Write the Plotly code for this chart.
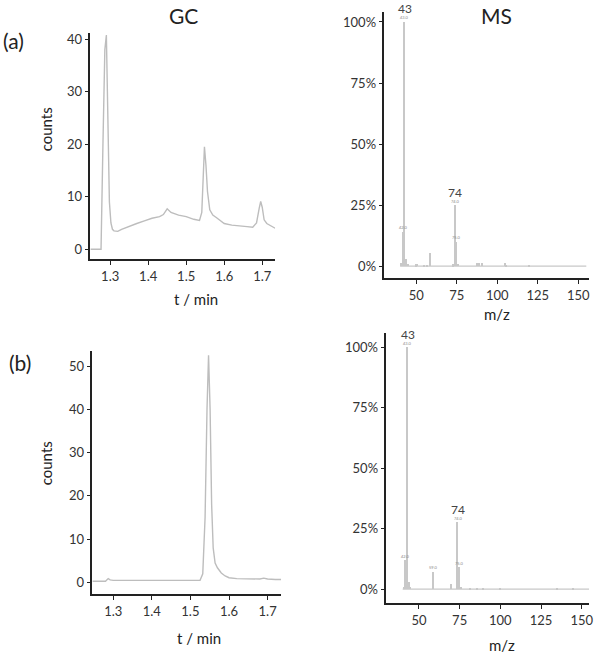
import plotly.graph_objects as go

# GC trace (a) - mixture
gc_a_t = [1.248, 1.276, 1.281, 1.286, 1.290, 1.294, 1.298, 1.302, 1.306, 1.31, 1.32, 1.33,
          1.35, 1.37, 1.39, 1.41, 1.43, 1.44, 1.45, 1.46, 1.48, 1.50, 1.52, 1.535,
          1.541, 1.545, 1.548, 1.552, 1.556, 1.562, 1.57, 1.58, 1.59, 1.60, 1.62,
          1.64, 1.66, 1.675, 1.685, 1.692, 1.696, 1.70, 1.705, 1.712, 1.72, 1.734]
gc_a_counts = [0, 0, 20, 38, 40.8, 25, 9, 5, 3.8, 3.5, 3.4, 3.8,
               4.4, 4.9, 5.4, 5.9, 6.2, 6.6, 7.7, 7.0, 6.5, 6.2, 5.7, 5.5,
               7, 15, 19.5, 16, 11, 7.5, 6.5, 6.0, 5.5, 4.9, 4.6,
               4.4, 4.3, 4.2, 5, 7.8, 9.1, 8, 5.6, 4.9, 4.6, 4.0]

# GC trace (b) - pure compound
gc_b_t = [1.246, 1.28, 1.287, 1.292, 1.30, 1.35, 1.40, 1.45, 1.50, 1.525, 1.532,
          1.538, 1.543, 1.547, 1.551, 1.555, 1.559, 1.564, 1.57, 1.58, 1.59, 1.60,
          1.62, 1.65, 1.68, 1.69, 1.70, 1.72, 1.735]
gc_b_counts = [0.3, 0.3, 0.9, 0.6, 0.5, 0.5, 0.5, 0.5, 0.5, 0.5, 2,
               15, 40, 52.5, 40, 18, 8, 4.5, 3.4, 2.2, 1.5, 1.1,
               0.9, 0.8, 0.8, 1.0, 0.8, 0.7, 0.7]

# mass spectra (m/z, relative intensity %)
ms_a_mz = [41, 42, 43, 44, 45, 50, 51, 55, 57, 59, 73, 74, 75, 76, 88, 89, 91, 105, 106, 120]
ms_a_int = [1.5, 14, 100, 3, 1, 0.8, 1, 0.5, 0.5, 5.5, 0.8, 25, 10, 1, 1.5, 1.5, 1.2, 1.5, 0.5, 0.6]
ms_b_mz = [41, 42, 43, 44, 45, 59, 70, 74, 75, 76, 82, 86, 90, 100, 135, 145]
ms_b_int = [1, 12, 100, 3, 1, 7.2, 2.3, 27.7, 9, 1, 0.4, 0.4, 0.3, 0.3, 0.6, 0.3]
ms_base_mz = [40, 155]

gc_ticks = [1.3, 1.4, 1.5, 1.6, 1.7]
ms_ticks = [50, 75, 100, 125, 150]
pct_ticks = [0, 25, 50, 75, 100]
pct_text = ["0%", "25%", "50%", "75%", "100%"]

ms_a_labels = {43: "43", 74: "74"}
ms_b_labels = {43: "43", 74: "74"}
ms_a_small = [42, 43, 74, 75]
ms_b_small = [42, 43, 59, 74, 75]

FONT = "Lato"
LINE = "#bdbdbd"
STICK = "#c8c8c8"

W, H = 600, 654


def fx(x):
    return x / W


def fy(y):
    return 1 - y / H


def dom(x0, x1, y0, y1):
    return [fx(x0), fx(x1)], [fy(y1), fy(y0)]


fig = go.Figure()

fig.add_trace(go.Scatter(x=gc_a_t, y=gc_a_counts, mode="lines",
                         line=dict(color=LINE, width=1.4), xaxis="x", yaxis="y"))
fig.add_trace(go.Bar(x=ms_a_mz, y=ms_a_int, width=0.9, marker_color=STICK,
                     marker_line_width=0, xaxis="x2", yaxis="y2"))
fig.add_trace(go.Scatter(x=ms_base_mz, y=[0, 0], mode="lines",
                         line=dict(color=STICK, width=1.2), xaxis="x2", yaxis="y2"))
fig.add_trace(go.Scatter(x=gc_b_t, y=gc_b_counts, mode="lines",
                         line=dict(color=LINE, width=1.4), xaxis="x3", yaxis="y3"))
fig.add_trace(go.Bar(x=ms_b_mz, y=ms_b_int, width=0.9, marker_color=STICK,
                     marker_line_width=0, xaxis="x4", yaxis="y4"))
fig.add_trace(go.Scatter(x=ms_base_mz, y=[0, 0], mode="lines",
                         line=dict(color=STICK, width=1.2), xaxis="x4", yaxis="y4"))


def ax(domain, rng, anchor, **kw):
    d = dict(domain=domain, range=rng, anchor=anchor, showgrid=False, zeroline=False,
             showline=True, linecolor="#222", linewidth=1.5, ticks="outside",
             ticklen=4, tickcolor="#222", ticklabeloverflow="allow",
             tickfont=dict(family=FONT, size=13, color="#333"))
    d.update(kw)
    return d


gca_x, gca_y = dom(91, 277, 31, 258)
msa_x, msa_y = dom(387, 593, 10, 277)
gcb_x, gcb_y = dom(93, 283, 350, 594)
msb_x, msb_y = dom(389, 593, 332, 603)

fig.update_layout(
    width=W, height=H, margin=dict(l=0, r=0, t=0, b=0),
    paper_bgcolor="white", plot_bgcolor="white", showlegend=False, bargap=0,
    xaxis=ax(gca_x, [1.248, 1.734], "y", tickvals=gc_ticks),
    yaxis=ax(gca_y, [-1.9, 41.2], "x", tickvals=[0, 10, 20, 30, 40]),
    xaxis2=ax(msa_x, [30.3, 156.7], "y2", tickvals=ms_ticks),
    yaxis2=ax(msa_y, [-4.9, 104.1], "x2", tickvals=pct_ticks, ticktext=pct_text),
    xaxis3=ax(gcb_x, [1.246, 1.735], "y3", tickvals=gc_ticks),
    yaxis3=ax(gcb_y, [-2.7, 53.5], "x3", tickvals=[0, 10, 20, 30, 40, 50]),
    xaxis4=ax(msb_x, [30, 154.5], "y4", tickvals=ms_ticks),
    yaxis4=ax(msb_y, [-5.8, 105.8], "x4", tickvals=pct_ticks, ticktext=pct_text),
)

annots = [
    ("GC", 185, 14, 21, 0), ("MS", 500, 14, 21, 0),
    ("(a)", 14, 39, 21, 0), ("(b)", 20, 362, 21, 0),
    ("counts", 46, 128, 15, -90), ("counts", 46, 463, 15, -90),
    ("t / min", 197, 298, 15, 0), ("t / min", 200, 638, 15, 0),
    ("m/z", 500, 313, 15, 0), ("m/z", 505, 645, 15, 0),
]
for text, x, y, size, ang in annots:
    fig.add_annotation(text=text, x=fx(x), y=fy(y), xref="paper", yref="paper",
                       xanchor="center", yanchor="middle", showarrow=False,
                       textangle=ang, font=dict(family=FONT, size=size, color="#222"))

for xa, ya, mz, ints, labels, small in [("x2", "y2", ms_a_mz, ms_a_int, ms_a_labels, ms_a_small),
                                        ("x4", "y4", ms_b_mz, ms_b_int, ms_b_labels, ms_b_small)]:
    for m, v in zip(mz, ints):
        if m in labels:
            fig.add_annotation(text=labels[m], x=m, y=v, xref=xa, yref=ya, showarrow=False,
                               yshift=13, font=dict(family=FONT, size=12, color="#444"))
        if m in small:
            fig.add_annotation(text=f"{m}.0", x=m, y=v, xref=xa, yref=ya, showarrow=False,
                               yshift=4, font=dict(family=FONT, size=4, color="#888"))

# the page body keeps its default 8px margin otherwise
fig.write_html("out.html", config={"displayModeBar": False},
               post_script="document.body.style.margin = '0';")
